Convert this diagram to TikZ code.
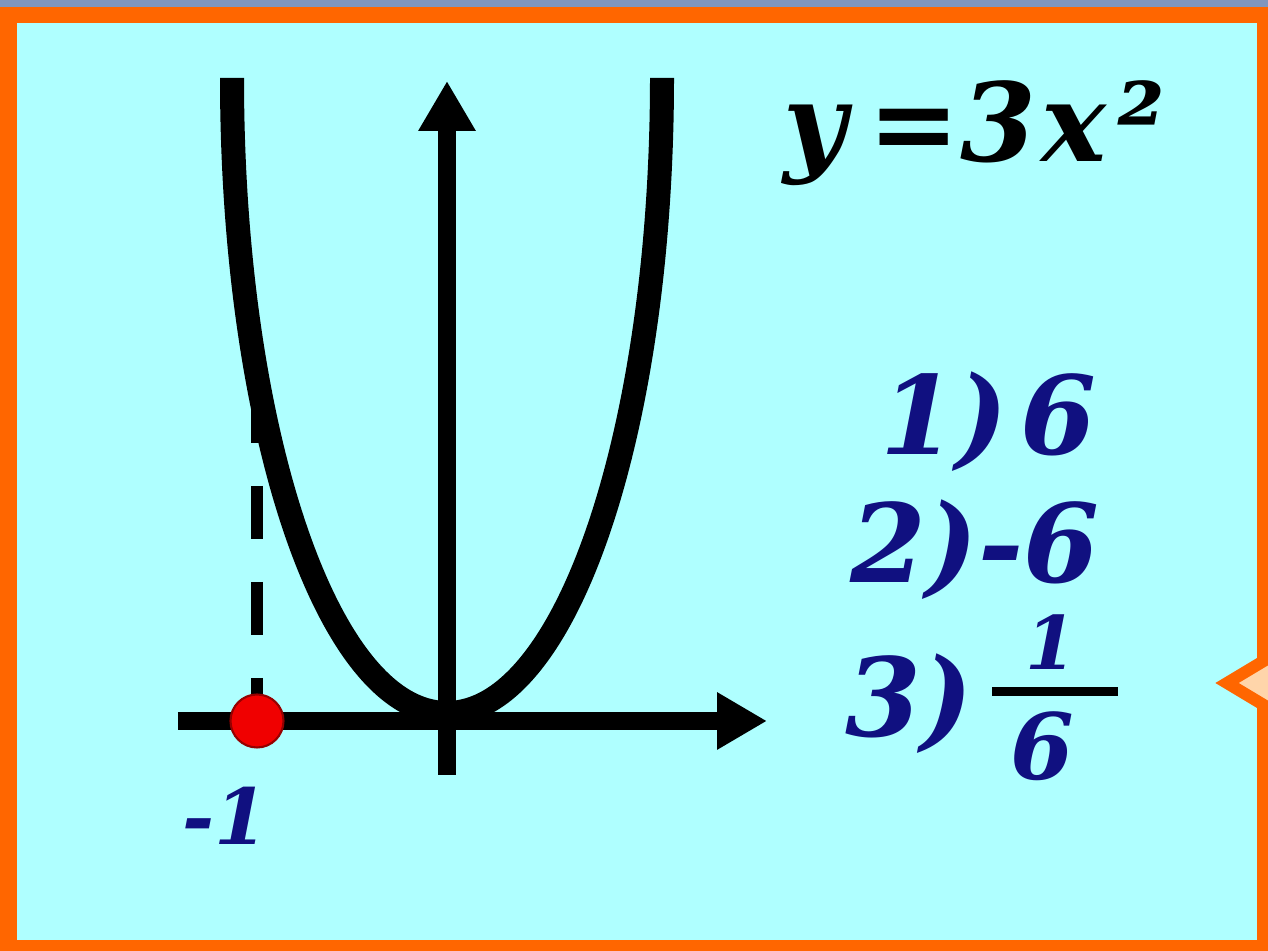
\documentclass[tikz,border=0pt]{standalone}
\usepackage{fontspec}
\setmainfont{DejaVu Serif}
\usetikzlibrary{arrows.meta}
\definecolor{rahmen}{RGB}{255,102,0}
\definecolor{grund}{RGB}{175,255,255}
\definecolor{streifen}{RGB}{128,150,190}
\definecolor{pfirsich}{RGB}{255,213,170}
\definecolor{tinte}{RGB}{16,16,128}
\definecolor{punkt}{RGB}{240,0,0}
\definecolor{punktrand}{RGB}{150,0,0}

\begin{document}
\begin{tikzpicture}[line join=miter,
    achse/.style={line width=0.18cm, -{Triangle[length=0.5cm,width=0.54cm]}},
    antwort/.style={text=tinte, font=\fontsize{31}{36}\selectfont\bfseries\itshape, inner sep=0pt, anchor=base west}]
        % Rahmen und Hintergrund
        \useasboundingbox (-4.47,-2.30) rectangle (8.21,7.21);
        \fill[rahmen] (-4.47,-2.30) rectangle (8.21,7.21);
        \fill[streifen] (-4.47,7.14) rectangle (8.21,7.21);
        \fill[grund] (-4.30,-2.19) rectangle (8.10,6.98);
        \begin{scope}
        \clip (-4.47,-2.30) rectangle (8.21,7.21);
            \draw[rahmen, fill=pfirsich, line width=0.12cm] (8.6,0.86) -- (7.80,0.38) -- (8.6,-0.10);
        \end{scope}

        % Achsen
        \coordinate (O) at (0,0);
        \coordinate (xl) at (-2.69,0);
        \coordinate (xr) at (3.20,0);
        \coordinate (yu) at (0,-0.54);
        \coordinate (yo) at (0,6.40);
        \coordinate (P) at (-1.90,0);
        \coordinate (Q) at (-1.90,3.31);
        \draw[line width=0.12cm, dash pattern=on 0.53cm off 0.43cm] (Q) -- (P);
        \draw[achse] (xl) -- (xr);
        \draw[achse] (yu) -- (yo);

        % Parabel y=3x^2
        \draw[line width=0.24cm] (-2.15,6.43) .. controls (-2.15,2.93) and (-1.20,0.08) .. (0,0.08)
            .. controls (1.20,0.08) and (2.15,2.93) .. (2.15,6.43);

        \node[circle, fill=punkt, draw=punktrand, line width=0.6pt, minimum size=0.53cm, inner sep=0pt] (pkt) at (P) {};
        \node[antwort, anchor=center, font=\fontsize{22}{24}\selectfont\bfseries\itshape] (minus) at (-2.22,-0.95) {-1};

        % Formel und Antworten
        \node[antwort, text=black] (formel) at (3.36,5.59) {y\hspace{0.22cm}=3\hspace{0.05cm}x\hspace{0.12cm}²};
        \node[antwort] (a1) at (4.33,2.66) {1)\hspace{0.12cm}6};
        \node[antwort] (a2) at (4.03,1.38) {2)-6};
        \node[antwort] (a3) at (3.98,-0.16) {3)};
        \node[antwort, anchor=base, font=\fontsize{21}{24}\selectfont\bfseries\itshape] (zaehler) at (6.04,0.51) {1};
        \node[antwort, anchor=base, font=\fontsize{26}{30}\selectfont\bfseries\itshape] (nenner) at (5.95,-0.59) {6};
        \coordinate (bl) at (5.45,0.29);
        \coordinate (br) at (6.71,0.29);
        \draw[line width=0.09cm] (bl) -- (br);
\end{tikzpicture}
\end{document}
